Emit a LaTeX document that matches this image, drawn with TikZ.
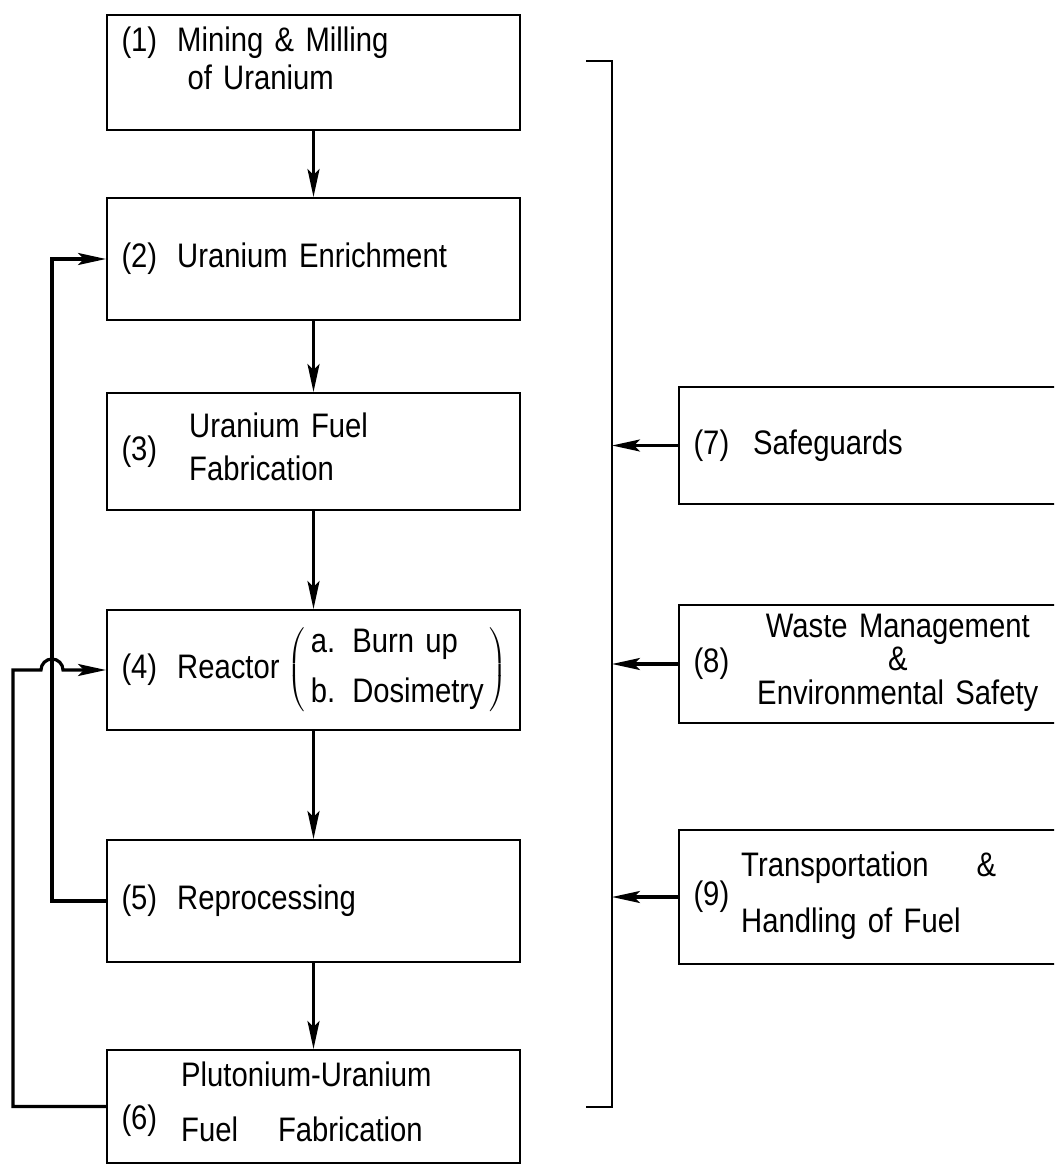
\documentclass[tikz,border=0pt]{standalone}
\usepackage{fontspec}
\usetikzlibrary{arrows.meta}
\newfontfamily\plotfont[FakeStretch=0.86,WordSpace=2]{Liberation Sans}

\tikzset{
  stage/.style={draw, line width=1pt, minimum width=206.5pt, text width=192pt,
    inner xsep=7.25pt, align=left, font=\plotfont\fontsize{17}{19}\selectfont},
  aspect/.style={stage, minimum width=189.5pt, text width=175pt},
  flow/.style={line width=1.6pt, -{Stealth[length=14pt,width=6pt,inset=3pt]}}
}

\begin{document}
\begin{tikzpicture}[x=0.5pt, y=-0.5pt]
\clip (0,0) rectangle (1054,1166);
% fuel cycle stages
\node[stage, minimum height=57.5pt] (s1) at (313.5,72.5)
  {(1)\hspace{10pt}Mining \& Milling\\\hspace*{33pt}of Uranium\rule[-14pt]{0pt}{0pt}};
\node[stage, minimum height=61pt] (s2) at (313.5,259) {(2)\hspace{10pt}Uranium Enrichment};
\node[stage, minimum height=58.5pt] (s3) at (313.5,451.5)
  {(3)\hspace{16pt}\begin{tabular}{@{}l@{}}Uranium Fuel\\[2.5pt]Fabrication\end{tabular}};
\node[stage, minimum height=60pt] (s4) at (313.5,670)
  {\mbox{(4)\hspace{10pt}Reactor\hspace{4pt}$\left(\,\begin{tabular}{@{}l@{}}a. Burn up\\[6pt]b. Dosimetry\end{tabular}\,\right)$}};
\node[stage, minimum height=61pt] (s5) at (313.5,901) {(5)\hspace{10pt}Reprocessing};
\node[stage, minimum height=56.5pt] (s6) at (313.5,1106.5)
  {\raisebox{-7pt}{(6)}\hspace{12pt}\begin{tabular}{@{}l@{}}Plutonium-Uranium\\[8.5pt]Fuel\hspace{20pt}Fabrication\end{tabular}};

% supporting activities
\node[aspect, minimum height=58.5pt] (r7) at (868.5,445.5) {(7)\hspace{12pt}Safeguards};
\node[aspect, minimum height=59pt] (r8) at (868.5,664)
  {(8)\hspace{14pt}{\renewcommand{\arraystretch}{0.8}\begin{tabular}{@{}c@{}}Waste Management\\\&\\Environmental Safety\end{tabular}}};
\node[aspect, minimum height=67pt] (r9) at (868.5,897)
  {(9)\hspace{6pt}\begin{tabular}{@{}l@{}}Transportation\hspace{24pt}\&\\[9pt]Handling of Fuel\end{tabular}};

% bracket round the chain
\coordinate (brk) at (612,0);
\coordinate (inner) at (52,0);
\coordinate (outer) at (13,0);
\draw[line width=1.2pt] (586,61) -- (612,61) -- (612,1107) -- (586,1107);

\draw[flow] (s1) -- (s2);
\draw[flow] (s2) -- (s3);
\draw[flow] (s3) -- (s4);
\draw[flow] (s4) -- (s5);
\draw[flow] (s5) -- (s6);

% recycle loops
\draw[flow] (s5.west) -- (s5.west -| inner) |- (s2.west);
\draw[flow] (s6.west) -- (s6.west -| outer) -- (outer |- s4.west) -- (41,670)
  arc[start angle=180, end angle=360, radius=11] -- (s4.west);

\draw[flow] (r7.west) -- (r7.west -| brk);
\draw[flow] (r8.west) -- (r8.west -| brk);
\draw[flow] (r9.west) -- (r9.west -| brk);
\end{tikzpicture}
\end{document}
